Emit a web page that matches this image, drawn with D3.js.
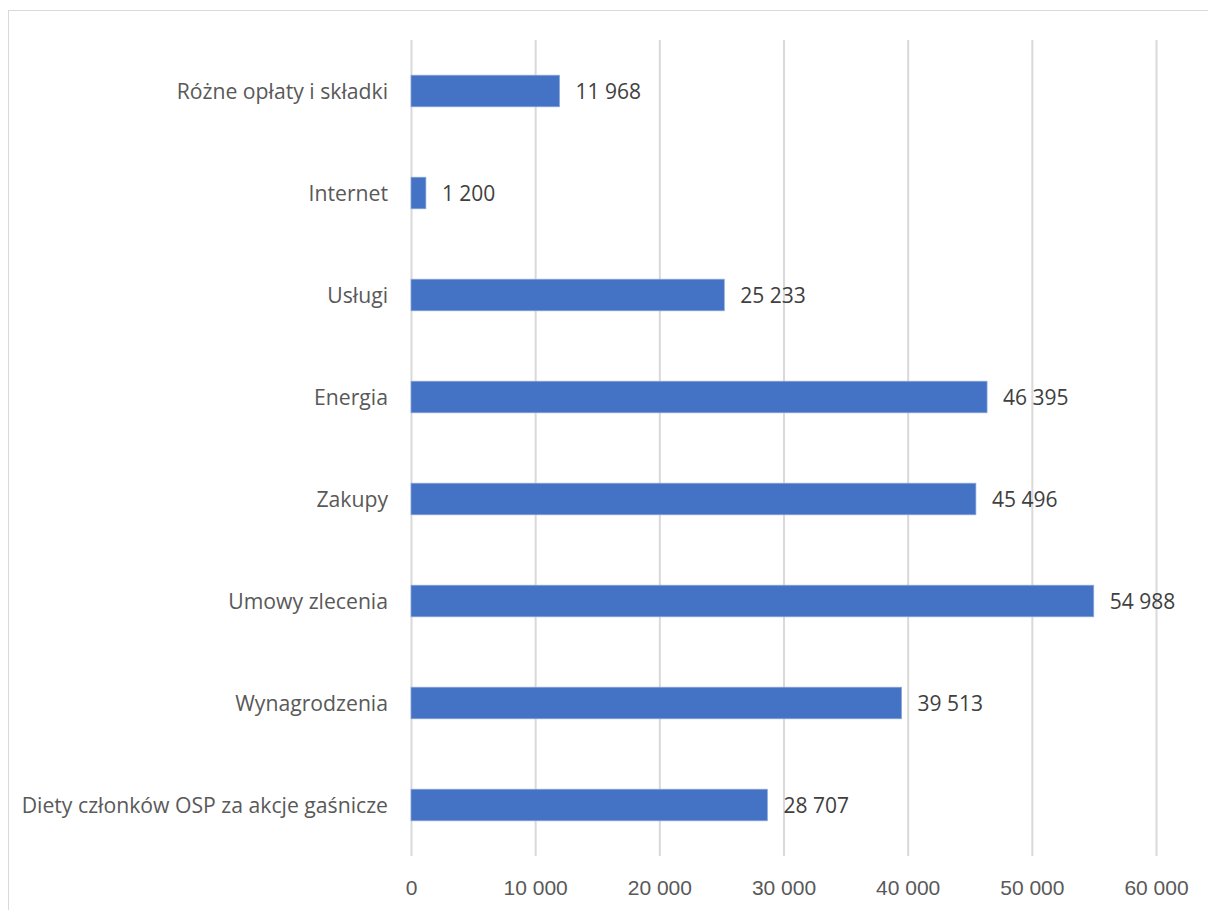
<!DOCTYPE html>
<html><head><meta charset="utf-8">
<script src="https://cdn.jsdelivr.net/npm/d3@7"></script>
<style>body{margin:0;background:#fff;}svg{display:block;font-family:"Open Sans","Noto Sans",sans-serif;}</style>
</head><body>
<script>
const categories = ["Różne opłaty i składki","Internet","Usługi","Energia","Zakupy","Umowy zlecenia","Wynagrodzenia","Diety członków OSP za akcje gaśnicze"];
const values = [11968,1200,25233,46395,45496,54988,39513,28707];
const tickValues = [0,10000,20000,30000,40000,50000,60000];

const W=1208,H=910;
const svg=d3.select("body").append("svg").attr("width",W).attr("height",H);
svg.append("rect").attr("x",8.5).attr("y",10.5).attr("width",W).attr("height",H).attr("fill","#fff").attr("stroke","#d9d9d9");

const x=d3.scaleLinear().domain([0,60000]).range([411,1156]);
const y=d3.scaleBand().domain(categories).range([40,856]).paddingInner(0.69).paddingOuter(0.345);

const fmt=v=>d3.format(",")(v).replace(/,/g," ");

const grid=svg.append("g").attr("transform","translate(0,856)")
 .call(d3.axisBottom(x).tickValues(tickValues).tickSize(-816).tickFormat(fmt));
grid.select(".domain").remove();
grid.selectAll(".tick line").attr("stroke","#d9d9d9").attr("stroke-width",2);
grid.selectAll(".tick text").attr("fill","#595959").attr("font-size",21).attr("dy","1.7em");

svg.append("g").selectAll("rect").data(values).join("rect")
 .attr("x",x(0)).attr("y",(d,i)=>y(categories[i]))
 .attr("width",d=>x(d)-x(0)).attr("height",y.bandwidth())
 .attr("fill","#4472C4").attr("stroke","#8faadc").attr("stroke-width",0.7);

svg.append("g").selectAll("text").data(values).join("text")
 .attr("x",d=>x(d)+16).attr("y",(d,i)=>y(categories[i])+y.bandwidth()/2)
 .attr("dy","0.36em").attr("fill","#404040").attr("font-size",21).text(fmt);

svg.append("g").selectAll("text").data(categories).join("text")
 .attr("x",388).attr("y",d=>y(d)+y.bandwidth()/2).attr("dy","0.36em")
 .attr("text-anchor","end").attr("fill","#595959").attr("font-size",21.2).text(d=>d);
</script>
</body></html>
